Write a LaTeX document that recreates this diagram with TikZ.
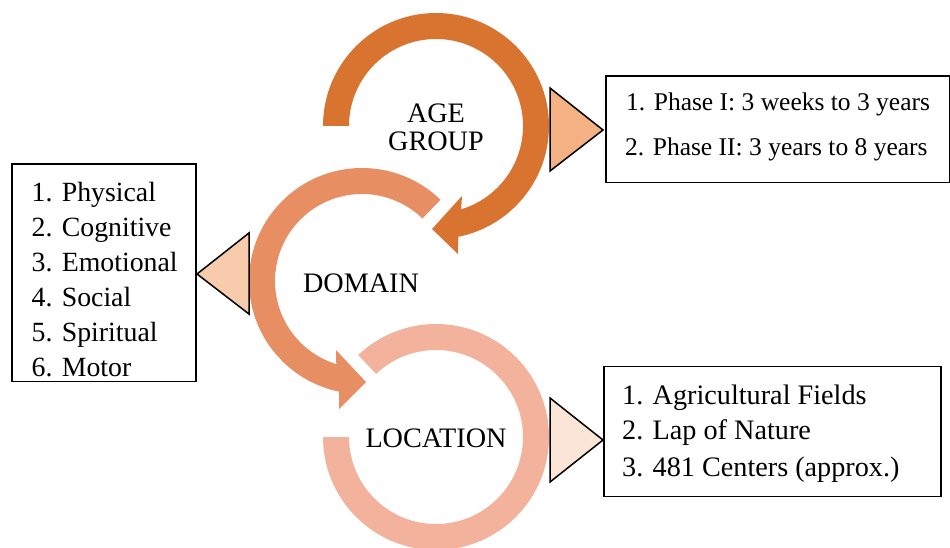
\documentclass[tikz,border=0pt]{standalone}
\usepackage{fontspec}
\setmainfont{Liberation Serif}
\usetikzlibrary{calc}
\definecolor{cA}{RGB}{217,115,48}
\definecolor{cB}{RGB}{231,142,98}
\definecolor{cC}{RGB}{243,178,155}
\definecolor{tA}{RGB}{244,177,131}
\definecolor{tB}{RGB}{248,203,173}
\definecolor{tC}{RGB}{251,229,214}
\begin{document}
\begin{tikzpicture}[x=1pt,y=1pt,
  lbl/.style={inner sep=0pt, anchor=base, font=\fontsize{28.2}{30}\selectfont},
  item/.style={inner sep=0pt, anchor=base west, font=\fontsize{27.8}{30}\selectfont},
  itemlg/.style={inner sep=0pt, anchor=base west, font=\fontsize{28.2}{30}\selectfont},
  itemsm/.style={inner sep=0pt, anchor=base west, font=\fontsize{25.5}{28}\selectfont},
  listbox/.style={draw=black, line width=1.5pt, fill=white, inner sep=0pt, anchor=south west},
  tri/.style={draw=black, line width=1.5pt, line join=miter}]
\useasboundingbox (0,0) rectangle (950,547);
\coordinate (C1) at (436,421);
\coordinate (C2) at (362,266);
\coordinate (C3) at (436,110);
% LOCATION ring
\fill[cC] ($(C3)+(180:113)$) arc[start angle=180,end angle=493.5,radius=113]
  -- ($(C3)+(493.5:87)$) arc[start angle=493.5,end angle=180,radius=87] -- cycle;
% DOMAIN ring with arrow head
\fill[cB] ($(C2)+(46:113)$) arc[start angle=46,end angle=258.3,radius=113]
  -- (339,138) -- (366,165) -- (336,197)
  -- ($(C2)+(252.8:87)$) arc[start angle=252.8,end angle=46,radius=87] -- cycle;
% AGE GROUP ring with arrow head
\fill[cA] ($(C1)+(180:113)$) arc[start angle=180,end angle=-78.6,radius=113]
  -- (458,293) -- (432,318) -- (462,351)
  -- ($(C1)+(-73.2:87)$) arc[start angle=-73.2,end angle=180,radius=87] -- cycle;
% labels
\node[lbl] (age1) at (436,424) {AGE};
\node[lbl] (age2) at (436,396) {GROUP};
\node[lbl] (dom) at (361,255) {DOMAIN};
\node[lbl] (loc) at (436,100) {LOCATION};
% triangles
\filldraw[tri, fill=tA] (550,459) -- (603,417) -- (550,376) -- cycle;
\filldraw[tri, fill=tB] (249,314) -- (197,273) -- (249,233) -- cycle;
\filldraw[tri, fill=tC] (550,149) -- (603,107) -- (550,65) -- cycle;
% boxes
\node[listbox, minimum width=344pt, minimum height=106.6pt] (box1) at (605,363.7) {};
\node[listbox, minimum width=184pt, minimum height=217pt] (box2) at (11,165) {};
\node[listbox, minimum width=337pt, minimum height=130pt] (box3) at (603,50) {};
% box texts
\node[itemsm] (a1) at (626,436.3) {1. Phase I: 3 weeks to 3 years};
\node[itemsm] (a2) at (625,391) {2. Phase II: 3 years to 8 years};
\node[item] (d1) at (31.5,345.3) {1. Physical};
\node[item] (d2) at (31.5,310.3) {2. Cognitive};
\node[item] (d3) at (31.5,275.3) {3. Emotional};
\node[item] (d4) at (31.5,240.3) {4. Social};
\node[item] (d5) at (31.5,205.3) {5. Spiritual};
\node[item] (d6) at (31.5,170.5) {6. Motor};
\node[itemlg] (l1) at (622,143) {1. Agricultural Fields};
\node[itemlg] (l2) at (622,107.5) {2. Lap of Nature};
\node[itemlg] (l3) at (622,70.5) {3. 481 Centers (approx.)};
\end{tikzpicture}
\end{document}
